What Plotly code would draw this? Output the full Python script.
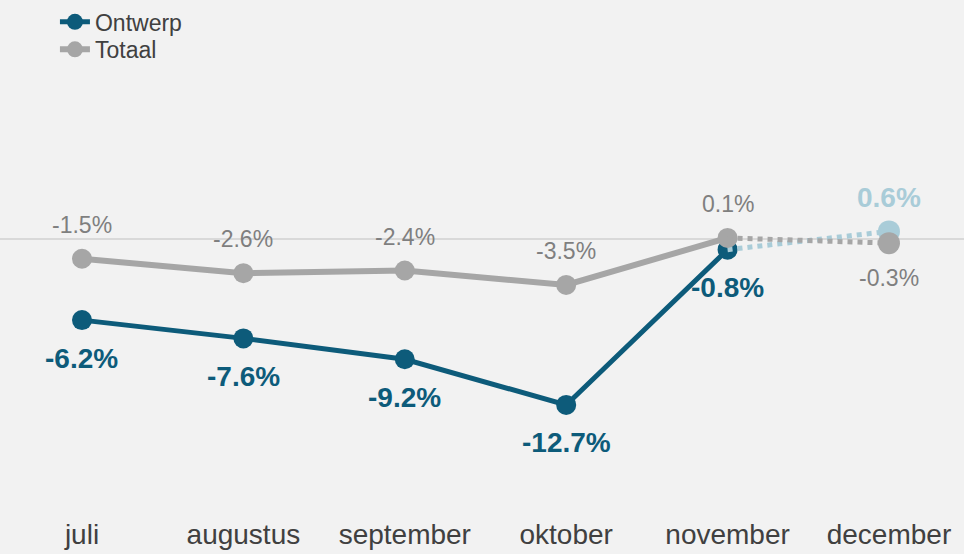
import plotly.graph_objects as go

maanden = ["juli", "augustus", "september", "oktober", "november", "december"]
ontwerp = [-6.2, -7.6, -9.2, -12.7, -0.8, 0.6]
totaal = [-1.5, -2.6, -2.4, -3.5, 0.1, -0.3]

blauw = "#0d5b7a"
lichtblauw = "#a9ccd8"
grijs = "#a6a6a6"
bg = "#f2f2f2"

fig = go.Figure()

# Ontwerp: solid t/m november, gestippeld naar december
fig.add_trace(go.Scatter(x=maanden[:5], y=ontwerp[:5], mode="lines+markers", name="Ontwerp",
                         line=dict(color=blauw, width=5), marker=dict(color=blauw, size=20),
                         legend="legend"))
fig.add_trace(go.Scatter(x=maanden[4:], y=ontwerp[4:], mode="lines", showlegend=False,
                         line=dict(color=lichtblauw, width=5, dash="dot"), hoverinfo="skip"))
fig.add_trace(go.Scatter(x=maanden[5:], y=ontwerp[5:], mode="markers", showlegend=False,
                         marker=dict(color=lichtblauw, size=22)))

# Totaal
fig.add_trace(go.Scatter(x=maanden[:5], y=totaal[:5], mode="lines+markers", name="Totaal",
                         line=dict(color=grijs, width=6), marker=dict(color=grijs, size=20),
                         legend="legend2"))
fig.add_trace(go.Scatter(x=maanden[4:], y=totaal[4:], mode="lines", showlegend=False,
                         line=dict(color=grijs, width=5, dash="dot"), hoverinfo="skip"))
fig.add_trace(go.Scatter(x=maanden[5:], y=totaal[5:], mode="markers", showlegend=False,
                         marker=dict(color=grijs, size=22)))

# labels
for i, m in enumerate(maanden):
    laatste = i == len(maanden) - 1
    fig.add_annotation(x=m, y=ontwerp[i], text=f"{ontwerp[i]:.1f}%", showarrow=False,
                       yshift=34 if laatste else -38,
                       font=dict(family="Liberation Sans", size=28,
                                 color=lichtblauw if laatste else blauw, weight="bold"))
    fig.add_annotation(x=m, y=totaal[i], text=f"{totaal[i]:.1f}%", showarrow=False,
                       yshift=-35 if laatste else 34,
                       font=dict(family="Liberation Sans", size=23, color="#7f7f7f"))

leg = dict(x=0.057, xanchor="left", yanchor="middle", bgcolor="rgba(0,0,0,0)",
           font=dict(size=23, color="#404040"))
fig.update_layout(
    width=964, height=554,
    paper_bgcolor=bg, plot_bgcolor=bg,
    margin=dict(l=0, r=0, t=58, b=46),
    font=dict(family="Liberation Sans", color="#404040"),
    legend=dict(leg, y=1 + (58 - 12) / 450),
    legend2=dict(leg, y=1 + (58 - 40) / 450),
    showlegend=True,
)
fig.update_xaxes(range=[-0.508, 5.465], showgrid=False, showline=False, zeroline=False,
                 tickfont=dict(size=28, color="#404040"), ticklabelstandoff=7)
fig.update_yaxes(range=[-20.6, 13.2], showgrid=False, showticklabels=False,
                 zeroline=True, zerolinecolor="#d9d9d9", zerolinewidth=2)

fig.write_html("out.html", config={"displayModeBar": False},
               post_script="document.body.style.margin='0px';")
